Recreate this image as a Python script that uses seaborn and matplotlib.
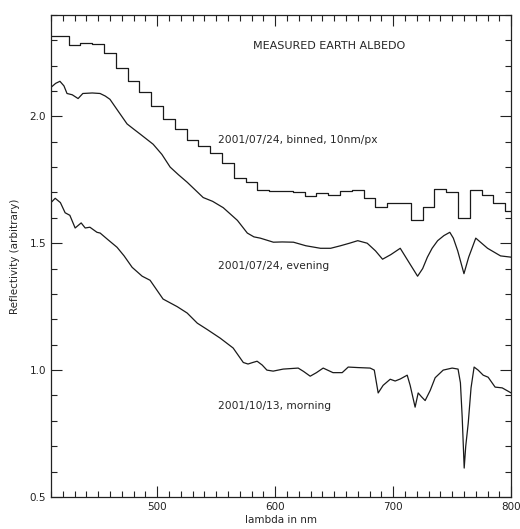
import numpy as np
import pandas as pd
import matplotlib
matplotlib.use('Agg')
import matplotlib.pyplot as plt
import seaborn as sns
from matplotlib.ticker import MultipleLocator

# binned spectrum, 10 nm per pixel (bin centres)
binned_nm = list(range(410, 801, 10))
binned_refl = [2.315, 2.315, 2.283, 2.29, 2.285, 2.25, 2.19, 2.14, 2.094, 2.04,
               1.99, 1.95, 1.905, 1.882, 1.854, 1.815, 1.756, 1.74, 1.71, 1.705,
               1.705, 1.70, 1.688, 1.696, 1.69, 1.705, 1.708, 1.68, 1.642, 1.66,
               1.66, 1.59, 1.642, 1.715, 1.70, 1.598, 1.71, 1.69, 1.66, 1.625]

# evening spectrum 2001/07/24
evening_nm = [410, 414, 417.6, 421, 423.6, 428, 433, 437, 445, 451.6, 456, 460,
              467, 474.5, 480, 485.6, 496.6, 504, 511, 518, 525.5, 539, 547, 556,
              568, 576.4, 582, 587.4, 598.5, 606, 615.5, 626, 638.4, 647, 655.4,
              663, 670, 678, 685, 691, 698, 706, 714, 720.7, 725, 729, 733, 737.7,
              743, 748, 751, 754.7, 760, 764, 770, 775, 780, 791, 800]
evening_refl = [2.114, 2.13, 2.138, 2.12, 2.09, 2.085, 2.07, 2.09, 2.092, 2.09, 2.08, 2.067,
                2.02, 1.97, 1.95, 1.93, 1.89, 1.85, 1.80, 1.77, 1.74, 1.68, 1.665, 1.64,
                1.59, 1.54, 1.525, 1.52, 1.504, 1.505, 1.504, 1.49, 1.48, 1.48, 1.49,
                1.50, 1.51, 1.50, 1.47, 1.437, 1.455, 1.48, 1.42, 1.37, 1.40, 1.445, 1.48, 1.51,
                1.53, 1.543, 1.52, 1.47, 1.38, 1.445, 1.52, 1.50, 1.48, 1.45, 1.445]

# morning spectrum 2001/10/13
morning_nm = [410, 413.6, 418, 422, 426, 430.5, 435.6, 439, 443, 449, 451.7, 458,
              466, 472, 478.8, 487.3, 494, 505, 517, 525.4, 534, 542.4, 553.4, 564.4,
              573, 577, 581, 584.7, 589, 593, 598.3, 606.8, 619.5, 624, 629.7, 635,
              640.7, 649, 656.8, 661.9, 670, 680.5, 684, 687.3, 691.5, 697.5, 701.7,
              706, 711.9, 714.4, 718.6, 721.2, 724, 727.1, 731.4, 735.6, 742.4, 750,
              755, 757, 758.5, 760.2, 761.5, 763.6, 766, 768.6, 772, 776.3, 780.5,
              786.4, 792.4, 800]
morning_refl = [1.66, 1.677, 1.66, 1.62, 1.61, 1.56, 1.58, 1.56, 1.563, 1.543, 1.54, 1.515,
                1.484, 1.45, 1.405, 1.37, 1.354, 1.28, 1.25, 1.225, 1.185, 1.16, 1.126, 1.087,
                1.03, 1.024, 1.03, 1.035, 1.02, 1.0, 0.996, 1.004, 1.008, 0.995, 0.976, 0.99,
                1.008, 0.99, 0.99, 1.012, 1.01, 1.008, 1.0, 0.91, 0.94, 0.964, 0.957,
                0.965, 0.98, 0.94, 0.854, 0.91, 0.895, 0.88, 0.92, 0.97, 1.0, 1.008,
                1.004, 0.95, 0.815, 0.614, 0.70, 0.79, 0.93, 1.012, 1.0, 0.98, 0.972,
                0.933, 0.93, 0.91]

labels = ['2001/07/24, binned, 10nm/px', '2001/07/24, evening', '2001/10/13, morning']

sns.set_style("ticks")
plt.rcParams['font.family'] = ['DejaVu Sans']

fig = plt.figure(figsize=(5.2, 5.29), dpi=100)
ax = fig.add_axes([0.098, 0.0605, 0.885, 0.9115])

line_kw = dict(color='#1a1a1a', linewidth=0.9, estimator=None, sort=False, ax=ax)
sns.lineplot(x=binned_nm, y=binned_refl, drawstyle='steps-mid', **line_kw)
sns.lineplot(x=evening_nm, y=evening_refl, **line_kw)
sns.lineplot(x=morning_nm, y=morning_refl, **line_kw)

ax.set_xlim(410, 800)
ax.set_ylim(0.5, 2.4)
ax.xaxis.set_major_locator(MultipleLocator(100))
ax.xaxis.set_minor_locator(MultipleLocator(10))
ax.yaxis.set_major_locator(MultipleLocator(0.5))
ax.yaxis.set_minor_locator(MultipleLocator(0.1))
ax.yaxis.set_major_formatter(matplotlib.ticker.FormatStrFormatter('%.1f'))
ax.tick_params(which='both', direction='in', top=True, right=True,
               labelsize=7.5, colors='#222222', width=0.8)
ax.tick_params(which='major', length=8)
ax.tick_params(which='minor', length=4)
for s in ax.spines.values():
    s.set_linewidth(0.9)
    s.set_color('#222222')

ax.set_xlabel('lambda in nm', fontsize=7.5, labelpad=2)
ax.set_ylabel('Reflectivity (arbitrary)', fontsize=7.5, labelpad=7)

ax.text(0.44, 0.93, 'MEASURED EARTH ALBEDO', transform=ax.transAxes, fontsize=8)
ax.text(0.364, 0.74, labels[0], transform=ax.transAxes, fontsize=7.7, va='center')
ax.text(0.364, 0.48, labels[1], transform=ax.transAxes, fontsize=7.7, va='center')
ax.text(0.364, 0.188, labels[2], transform=ax.transAxes, fontsize=7.7, va='center')

fig.savefig('out.png', dpi=100)
